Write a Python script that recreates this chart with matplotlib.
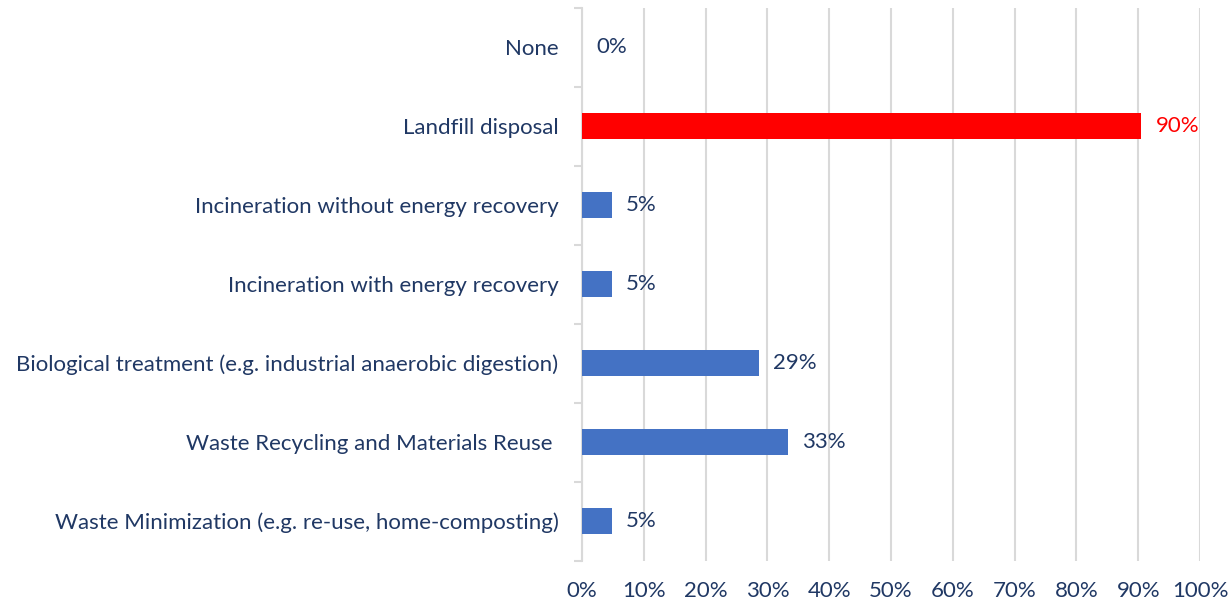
import matplotlib.pyplot as plt
import numpy as np
from matplotlib.ticker import FixedLocator, PercentFormatter

# Categories bottom -> top
categories = [
    "Waste Minimization (e.g. re-use, home-composting)",
    "Waste Recycling and Materials Reuse ",
    "Biological treatment (e.g. industrial anaerobic digestion)",
    "Incineration with energy recovery",
    "Incineration without energy recovery",
    "Landfill disposal",
    "None",
]
values = [4.8, 33.3, 28.6, 4.8, 4.8, 90.5, 0.0]
labels = ["5%", "33%", "29%", "5%", "5%", "90%", "0%"]
highlight = "Landfill disposal"

navy = "#203864"
blue = "#4472C4"
red = "#FF0000"
grid = "#D9D9D9"

plt.rcParams["font.family"] = ["Lato", "DejaVu Sans"]
fs = 16

fig = plt.figure(figsize=(12.32, 6.02), dpi=100)
ax = fig.add_axes([582 / 1232, 1 - 560.5 / 602, 618 / 1232, 553 / 602])

y = np.arange(len(categories))
colors = [red if c == highlight else blue for c in categories]
ax.barh(y, values, height=0.33, color=colors, zorder=3)

for yi, v, lab, c in zip(y, values, labels, colors):
    tc = red if c == red else navy
    ax.text(v + 2.3, yi, lab, va="center", ha="left", fontsize=fs, color=tc)

ax.set_xlim(0, 100)
ax.set_ylim(-0.5, len(categories) - 0.5)
ax.set_xticks(np.arange(0, 101, 10))
ax.xaxis.set_major_formatter(PercentFormatter(decimals=0))
ax.grid(axis="x", color=grid, linewidth=1.5, zorder=0)

ax.set_yticks(y)
ax.set_yticklabels(categories)
ax.yaxis.set_minor_locator(FixedLocator(np.arange(-0.5, len(categories), 1)))
ax.tick_params(axis="y", which="major", length=0, pad=17, labelsize=fs, labelcolor=navy)
ax.tick_params(axis="y", which="minor", length=6, width=1.5, color=grid)
ax.tick_params(axis="x", length=0, pad=15, labelsize=fs, labelcolor=navy)

for s in ["top", "right", "bottom"]:
    ax.spines[s].set_visible(False)
ax.spines["left"].set_color(grid)
ax.spines["left"].set_linewidth(1.5)

fig.savefig("out.png", dpi=100)
